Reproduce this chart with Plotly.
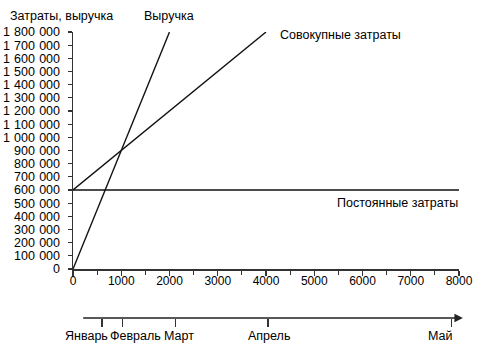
import plotly.graph_objects as go

# Data
revenue_x = [0, 2000]
revenue_y = [0, 1800000]
total_cost_x = [0, 4000]
total_cost_y = [600000, 1800000]
fixed_cost_x = [0, 8000]
fixed_cost_y = [600000, 600000]

y_tick_vals = list(range(0, 1800001, 100000))
y_tick_text = ["{:,}".format(v).replace(",", "\u2004") for v in y_tick_vals]
x_tick_vals = list(range(0, 8001, 1000))
x_tick_text = [str(v) for v in x_tick_vals]

month_names = ["Январь", "Февраль", "Март", "Апрель", "Май"]
month_vals = [600, 1030, 2130, 4040, 7850]
month_label_shift = [-15, 13, 3, 1, -11]
timeline_start = 180
timeline_end = 8080

FONT = "Liberation Sans, Arial, sans-serif"
INK = "#000000"

fig = go.Figure()
line_style = dict(color="#111111", width=1.4)
fig.add_trace(go.Scatter(x=revenue_x, y=revenue_y, mode="lines", line=line_style,
                         name="Выручка", showlegend=False, cliponaxis=False))
fig.add_trace(go.Scatter(x=total_cost_x, y=total_cost_y, mode="lines", line=line_style,
                         name="Совокупные затраты", showlegend=False, cliponaxis=False))
fig.add_trace(go.Scatter(x=fixed_cost_x, y=fixed_cost_y, mode="lines", line=line_style,
                         name="Постоянные затраты", showlegend=False, cliponaxis=False))
# invisible trace to activate xaxis2
fig.add_trace(go.Scatter(x=[0], y=[0], xaxis="x2", mode="markers",
                         marker=dict(opacity=0), showlegend=False, hoverinfo="skip"))

ydom0 = (318 - 269) / 286.0

fig.update_layout(
    width=499, height=358,
    margin=dict(l=73, r=40, t=32, b=40, autoexpand=False),
    paper_bgcolor="white", plot_bgcolor="white",
    font=dict(family=FONT, size=12.5, color=INK),
    xaxis=dict(range=[0, 8000], domain=[0, 1], anchor="y", automargin=False,
               tickvals=x_tick_vals, ticktext=x_tick_text,
               ticks="outside", ticklen=5, tickwidth=1.2, tickcolor="#333",
               minor=dict(dtick=500, tick0=0, ticks="outside", ticklen=4, tickwidth=1.2, tickcolor="#333"),
               showline=True, linecolor="#333", linewidth=1.5,
               showgrid=False, zeroline=False, ticklabelstandoff=-5,
               tickfont=dict(size=12)),
    yaxis=dict(range=[0, 1800000], domain=[ydom0, 1], anchor="x", automargin=False,
               tickvals=y_tick_vals, ticktext=y_tick_text,
               ticks="outside", ticklen=4, tickwidth=1.2, tickcolor="#333",
               showline=True, linecolor="#333", linewidth=1.5,
               showgrid=False, zeroline=False, ticklabelstandoff=5,
               tickfont=dict(size=12.5)),
    xaxis2=dict(range=[0, 8000], domain=[0, 1], overlaying="x", anchor="free", position=0,
                side="bottom", tickvals=month_vals, ticktext=["" for _ in month_vals],
                ticks="outside", ticklen=8, tickwidth=1.2, tickcolor="#333", automargin=False,
                showline=False, showgrid=False, zeroline=False),
)

annotations = [
    dict(x=-0.031, y=1, xref="paper", yref="paper", yshift=16, text="Затраты, выручка",
         showarrow=False, xanchor="center", yanchor="middle"),
    dict(x=0.2487, y=1, xref="paper", yref="paper", yshift=16, text="Выручка",
         showarrow=False, xanchor="center", yanchor="middle"),
    dict(x=4245, y=1779000, xref="x", yref="y", text="Совокупные затраты", showarrow=False,
         xanchor="left", yanchor="middle"),
    dict(x=1.003, y=502000, xref="paper", yref="y", text="Постоянные затраты", showarrow=False,
         xanchor="right", yanchor="middle"),
    dict(x=timeline_end, y=0, xref="x2", yref="paper", ax=timeline_start, ay=0,
         axref="x2", ayref="pixel", text="", showarrow=True,
         arrowhead=2, arrowsize=1.2, arrowwidth=1.4, arrowcolor="#222"),
]
for name, val, sh in zip(month_names, month_vals, month_label_shift):
    annotations.append(dict(x=val, y=0, xref="x2", yref="paper", text=name, showarrow=False,
                            xanchor="center", yanchor="middle", xshift=sh, yshift=-18))
fig.update_layout(annotations=annotations)

fig.write_html("out.html",
               config={"displayModeBar": False, "staticPlot": True},
               post_script="document.body.style.margin='0';document.body.style.overflow='hidden';")
